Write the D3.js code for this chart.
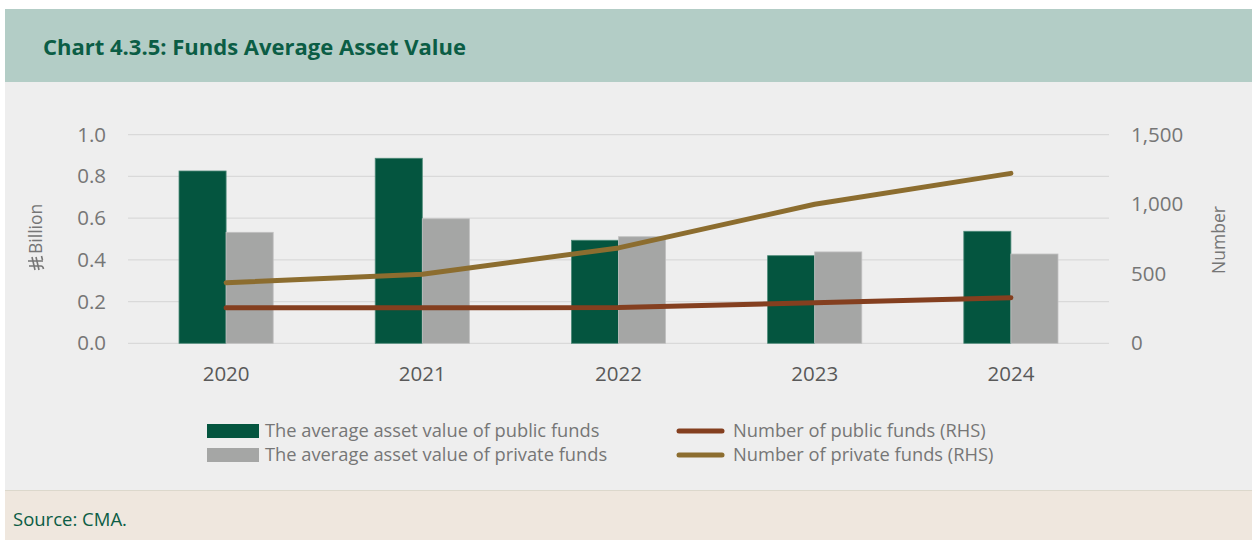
<!DOCTYPE html>
<html>
<head>
<meta charset="utf-8">
<script src="https://cdn.jsdelivr.net/npm/d3@7"></script>
<style>
  html, body { margin: 0; padding: 0; background: #ffffff; }
  svg { display: block; font-family: "Open Sans", "Noto Sans", sans-serif; }
</style>
</head>
<body>
<svg id="chart" width="1252" height="540"></svg>
<script>
// Chart data
const years = ["2020", "2021", "2022", "2023", "2024"];
const publicAvgAsset = [0.826, 0.887, 0.494, 0.420, 0.537];   // SAR billion
const privateAvgAsset = [0.532, 0.597, 0.511, 0.438, 0.428];  // SAR billion
const publicFundCount = [256, 256, 257, 292, 328];            // RHS
const privateFundCount = [436, 496, 686, 1000, 1222];         // RHS
const leftTicks = [0, 0.2, 0.4, 0.6, 0.8, 1.0];
const rightTicks = [0, 500, 1000, 1500];

const C = {
  header: "#b3cdc6",
  panel: "#eeeeee",
  footer: "#efe7de",
  title: "#0b5d45",
  publicBar: "#04553f",
  privateBar: "#a5a6a5",
  publicLine: "#843f1f",
  privateLine: "#8c6d2f",
  grid: "#d9d9d9",
  tick: "#767676"
};

const svg = d3.select("#chart");

// Page frame: header band, chart panel, footer
svg.append("rect").attr("x", 5).attr("y", 9).attr("width", 1247).attr("height", 73).attr("fill", C.header);
svg.append("rect").attr("x", 5).attr("y", 82).attr("width", 1247).attr("height", 408).attr("fill", C.panel);
svg.append("rect").attr("x", 5).attr("y", 490).attr("width", 1247).attr("height", 50).attr("fill", C.footer);
svg.append("line").attr("x1", 5).attr("x2", 1252).attr("y1", 490.5).attr("y2", 490.5).attr("stroke", "#dcd8cc");

svg.append("text").attr("x", 43).attr("y", 55)
  .attr("fill", C.title).attr("font-size", 22).attr("font-weight", 700)
  .text("Chart 4.3.5: Funds Average Asset Value");

svg.append("text").attr("x", 13).attr("y", 526)
  .attr("fill", C.title).attr("font-size", 18.5)
  .text("Source: CMA.");

// Plot area
const plot = { left: 128, right: 1109, top: 134.7, bottom: 343.3 };

const x = d3.scaleBand().domain(years).range([plot.left, plot.right]).paddingInner(0.52).paddingOuter(0.26);
const yL = d3.scaleLinear().domain([0, 1.0]).range([plot.bottom, plot.top]);
const yR = d3.scaleLinear().domain([0, 1500]).range([plot.bottom, plot.top]);

// Gridlines
svg.append("g").selectAll("line").data(leftTicks).join("line")
  .attr("x1", plot.left).attr("x2", plot.right)
  .attr("y1", d => yL(d)).attr("y2", d => yL(d))
  .attr("stroke", C.grid).attr("stroke-width", 1.3);

// Left axis
const axL = svg.append("g").attr("transform", `translate(${plot.left},0)`)
  .call(d3.axisLeft(yL).tickValues(leftTicks).tickFormat(d3.format(".1f")).tickSize(0).tickPadding(22));
axL.select(".domain").remove();
axL.selectAll("text").attr("fill", C.tick).attr("font-size", 20.5).attr("font-family", "'Open Sans', sans-serif");

// Right axis
const axR = svg.append("g").attr("transform", `translate(${plot.right},0)`)
  .call(d3.axisRight(yR).tickValues(rightTicks).tickFormat(d3.format(",")).tickSize(0).tickPadding(22));
axR.select(".domain").remove();
axR.selectAll("text").attr("fill", C.tick).attr("font-size", 20.5).attr("font-family", "'Open Sans', sans-serif");

// Category axis
const axX = svg.append("g").attr("transform", `translate(0,${plot.bottom})`)
  .call(d3.axisBottom(x).tickSize(0).tickPadding(23));
axX.select(".domain").remove();
axX.selectAll("text").attr("fill", "#595959").attr("font-size", 20.5).attr("font-family", "'Open Sans', sans-serif");

// Bars
const bw = x.bandwidth() / 2;
const bars = svg.append("g");
bars.selectAll("rect.pub").data(years).join("rect").attr("class", "pub")
  .attr("x", d => x(d)).attr("width", bw)
  .attr("y", (d, i) => yL(publicAvgAsset[i]))
  .attr("height", (d, i) => yL(0) - yL(publicAvgAsset[i]))
  .attr("fill", C.publicBar).attr("stroke", "#4d8a78").attr("stroke-width", 0.8);
bars.selectAll("rect.prv").data(years).join("rect").attr("class", "prv")
  .attr("x", d => x(d) + bw).attr("width", bw)
  .attr("y", (d, i) => yL(privateAvgAsset[i]))
  .attr("height", (d, i) => yL(0) - yL(privateAvgAsset[i]))
  .attr("fill", C.privateBar).attr("stroke", "#c0c0c0").attr("stroke-width", 0.8);

// Lines on the right-hand axis
const cx = d => x(d) + x.bandwidth() / 2;
const line = arr => d3.line().x(d => cx(d)).y((d, i) => yR(arr[i]))(years);
svg.append("path").attr("d", line(publicFundCount))
  .attr("fill", "none").attr("stroke", C.publicLine).attr("stroke-width", 5)
  .attr("stroke-linecap", "round").attr("stroke-linejoin", "round");
svg.append("path").attr("d", line(privateFundCount))
  .attr("fill", "none").attr("stroke", C.privateLine).attr("stroke-width", 5)
  .attr("stroke-linecap", "round").attr("stroke-linejoin", "round");

// Axis titles
const lt = svg.append("g").attr("transform", "translate(36,240) rotate(-90)");
lt.append("text").attr("x", -14).attr("y", 0).attr("dy", "0.35em")
  .attr("fill", C.tick).attr("font-size", 17.5).text("Billion");
// Saudi riyal sign, drawn as strokes ahead of the unit word
const rs = lt.append("g").attr("transform", "translate(-31,-8)")
  .attr("stroke", C.tick).attr("stroke-width", 1.6).attr("fill", "none")
  .attr("stroke-linecap", "butt");
rs.append("path").attr("d", "M5,1 L5,13 Q5,15 2,15.5 M10,0 L10,15");
rs.append("path").attr("d", "M1,7 L14,4 M1,11 L14,8 M11,14.5 L15,13.5");

svg.append("text").attr("transform", "translate(1219,240) rotate(-90)")
  .attr("text-anchor", "middle").attr("dy", "0.35em")
  .attr("fill", C.tick).attr("font-size", 17.5).text("Number");

// Legend
const legendBars = [
  { label: "The average asset value of public funds", color: C.publicBar },
  { label: "The average asset value of private funds", color: C.privateBar }
];
const legendLines = [
  { label: "Number of public funds (RHS)", color: C.publicLine },
  { label: "Number of private funds (RHS)", color: C.privateLine }
];
const lg = svg.append("g");
legendBars.forEach((d, i) => {
  const yy = 431 + i * 24;
  lg.append("rect").attr("x", 207).attr("y", yy - 7).attr("width", 52).attr("height", 14).attr("fill", d.color);
  lg.append("text").attr("x", 265).attr("y", yy).attr("dy", "0.35em")
    .attr("fill", C.tick).attr("font-size", 18.3).text(d.label);
});
legendLines.forEach((d, i) => {
  const yy = 431 + i * 24;
  lg.append("line").attr("x1", 679).attr("x2", 722).attr("y1", yy).attr("y2", yy)
    .attr("stroke", d.color).attr("stroke-width", 5).attr("stroke-linecap", "round");
  lg.append("text").attr("x", 733).attr("y", yy).attr("dy", "0.35em")
    .attr("fill", C.tick).attr("font-size", 18.3).text(d.label);
});
</script>
</body>
</html>
